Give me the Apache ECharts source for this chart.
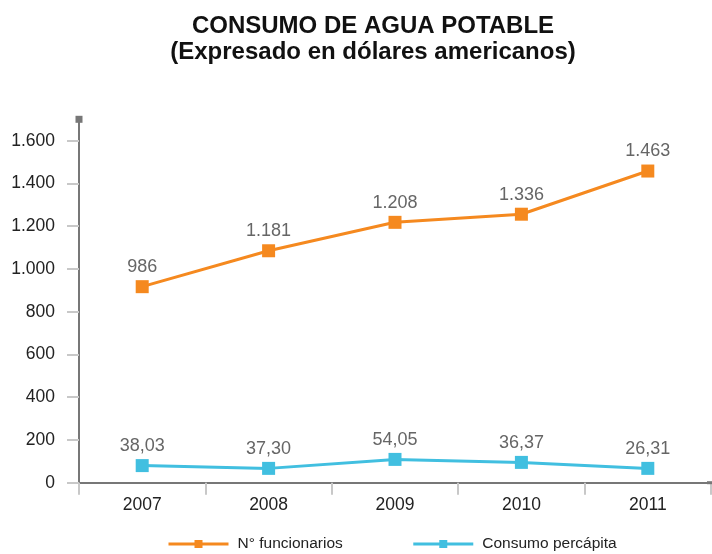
<!DOCTYPE html>
<html>
<head>
<meta charset="utf-8">
<script src="https://cdn.jsdelivr.net/npm/echarts@6/dist/echarts.min.js"></script>
<style>html,body{margin:0;padding:0;background:#fff}#c{width:712px;height:554px}</style>
</head>
<body>
<div id="c"></div>
<script>
var titleLines = ['CONSUMO DE AGUA POTABLE', '(Expresado en dólares americanos)'];
var categories = ['2007', '2008', '2009', '2010', '2011'];
var seriesNames = ['N° funcionarios', 'Consumo percápita'];
// plotted positions as drawn in the reference
var funcionarios = [917, 1085, 1218, 1256, 1458];
var percapita = [80, 67, 109, 95, 67];
// printed value labels
var funcionariosLabels = ['986', '1.181', '1.208', '1.336', '1.463'];
var percapitaLabels = ['38,03', '37,30', '54,05', '36,37', '26,31'];
var yTicks = [0, 200, 400, 600, 800, 1000, 1200, 1400, 1600];

var FONT = '"Liberation Sans", Arial, sans-serif';
function fmtThousands(v) {
  return String(v).replace(/\B(?=(\d{3})+(?!\d))/g, '.');
}

var chart = echarts.init(document.getElementById('c'), null, {renderer: 'canvas'});
chart.setOption({
  animation: false,
  backgroundColor: '#ffffff',
  title: {
    text: titleLines.join('\n'),
    left: 373,
    top: 13,
    padding: 0,
    textAlign: 'center',
    textStyle: {
      fontFamily: '"Liberation Sans", Arial, sans-serif',
      fontWeight: 'bold',
      fontSize: 24,
      lineHeight: 26,
      color: '#111'
    }
  },
  legend: {
    left: 167,
    top: 536,
    padding: 0,
    itemWidth: 60,
    itemHeight: 10,
    itemGap: 69,
    lineStyle: {width: 3},
    textStyle: {fontFamily: FONT, fontSize: 15.5, color: '#222', padding: [0, 0, 0, 4]},
    data: seriesNames
  },
  grid: {left: 79, right: 1, top: 119.3, bottom: 71.3, containLabel: false},
  xAxis: {
    type: 'category',
    data: categories,
    boundaryGap: true,
    axisLine: {lineStyle: {color: '#777', width: 2}, symbol: ['none', 'rect'], symbolSize: [3, 8]},
    axisTick: {show: true, length: 12, lineStyle: {color: '#c8c8c8', width: 2}},
    axisLabel: {margin: 13, fontFamily: FONT, fontSize: 17.5, color: '#222'},
    splitLine: {show: false}
  },
  yAxis: {
    type: 'value',
    min: 0,
    max: 1700,
    axisLine: {show: true, lineStyle: {color: '#777', width: 2}, symbol: ['none', 'rect'], symbolSize: [7, 7]},
    axisTick: {show: true, length: 12, customValues: yTicks, lineStyle: {color: '#c8c8c8', width: 2}},
    axisLabel: {customValues: yTicks, margin: 24, fontFamily: FONT, fontSize: 17.5, color: '#222',
      formatter: function (v) { return fmtThousands(v); }},
    splitLine: {show: false}
  },
  series: [
    {
      name: seriesNames[0],
      type: 'line',
      data: funcionarios,
      symbol: 'rect',
      symbolSize: 13,
      color: '#F5891F',
      lineStyle: {width: 3, color: '#F5891F'},
      itemStyle: {color: '#F5891F'},
      label: {
        show: true, position: 'top', distance: 4,
        fontFamily: FONT, fontSize: 18, color: '#666',
        formatter: function (p) { return funcionariosLabels[p.dataIndex]; }
      }
    },
    {
      name: seriesNames[1],
      type: 'line',
      data: percapita,
      symbol: 'rect',
      symbolSize: 13,
      color: '#41BFE0',
      lineStyle: {width: 3, color: '#41BFE0'},
      itemStyle: {color: '#41BFE0'},
      label: {
        show: true, position: 'top', distance: 4,
        fontFamily: FONT, fontSize: 18, color: '#666',
        formatter: function (p) { return percapitaLabels[p.dataIndex]; }
      }
    }
  ]
});
</script>
</body>
</html>
